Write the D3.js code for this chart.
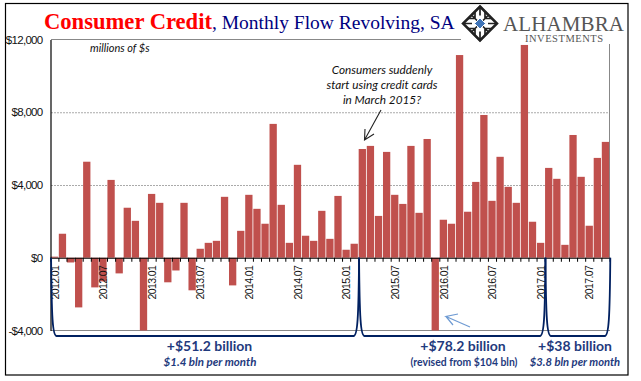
<!DOCTYPE html>
<html>
<head>
<meta charset="utf-8">
<style>
html, body { margin: 0; padding: 0; background: #fff; }
svg { display: block; }
</style>
</head>
<body>
<div id="chart"></div>
<script src="https://cdn.jsdelivr.net/npm/d3@7"></script>
<script>
// monthly flow, millions of $ (Jan 2012 - Sep 2017)
var flow2012 = [60, 1320, -260, -2730, 5280, -1630, -1300, 4280, -860, 2750, 2030, -4000];
var flow2013 = [3510, 3020, -1350, -700, 3020, -1790, 494, 820, 930, 3350, -1520, 1480];
var flow2014 = [3460, 2690, 1870, 7360, 2910, 820, 5110, 1210, 930, 2580, 1040, 3400];
var flow2015 = [440, 770, 5980, 6150, 2300, 5820, 3460, 2960, 6150, 2470, 6530, -4000];
var flow2016 = [2090, 1870, 11145, 2530, 4170, 7850, 3130, 5550, 3900, 3020, 11700, 1980];
var flow2017 = [820, 4940, 4340, 710, 6750, 4450, 1760, 5490, 6370];
var values = [].concat(flow2012, flow2013, flow2014, flow2015, flow2016, flow2017);

var years = [2012, 2013, 2014, 2015, 2016, 2017];
var months = [];
years.forEach(y => {
	d3.range(1, 13).forEach(m => {
		if (months.length < values.length) months.push(y + "." + String(m).padStart(2, "0"));
	});
});
var labelMonths = months.filter(m => m.endsWith(".01") || m.endsWith(".07"));
var yTicks = [-4000, 0, 4000, 8000, 12000];

// brace groups: first month index, last month index
var braces = [[0, 37], [38, 60], [61, 68]];

var width = 641, height = 381;
var svg = d3.select("#chart").append("svg").attr("width", width).attr("height", height);

svg.append("rect").attr("x", 5.5).attr("y", 3.5).attr("width", 622.5).attr("height", 371.5)
	.attr("fill", "#fff").attr("stroke", "#000").attr("stroke-width", 1.2);

var x = d3.scaleBand().domain(months).range([50.3, 609.5]).paddingInner(0.1).paddingOuter(0.05);
var xEdge = d3.scaleLinear().domain([0, months.length]).range([50.3, 609.5]);
var y = d3.scaleLinear().domain([-4000, 12000]).range([330.5, 39.5]);

// gridlines
svg.append("g").selectAll("line").data([4000, 8000]).enter().append("line")
	.attr("x1", 51).attr("x2", 609)
	.attr("y1", d => y(d) + 0.5).attr("y2", d => y(d) + 0.5)
	.attr("stroke", "#aaa").attr("stroke-dasharray", "2,1");

// frame lines
svg.append("line").attr("x1", 51).attr("x2", 461).attr("y1", y(12000)).attr("y2", y(12000)).attr("stroke", "#888");
svg.append("line").attr("x1", 51).attr("x2", 610).attr("y1", y(-4000)).attr("y2", y(-4000)).attr("stroke", "#888");
svg.append("line").attr("x1", 609.5).attr("x2", 609.5).attr("y1", 44).attr("y2", y(0)).attr("stroke", "#888");

svg.append("g").selectAll("rect").data(values).enter().append("rect")
	.attr("x", (d, i) => x(months[i]))
	.attr("width", x.bandwidth())
	.attr("y", d => y(Math.max(d, 0)))
	.attr("height", d => Math.abs(y(d) - y(0)))
	.attr("fill", "#c0504d");

// y axis
var yAxis = d3.axisLeft(y).tickValues(yTicks).tickSize(0).tickPadding(8)
	.tickFormat(d => (d < 0 ? "-$" : "$") + d3.format(",")(Math.abs(d)));
var yG = svg.append("g").attr("transform", "translate(50.5,0)").call(yAxis);
yG.select(".domain").attr("stroke", "#000").attr("stroke-width", 1.2);
yG.selectAll("text").attr("font-family", "Liberation Sans").attr("font-size", 11.5)
	.attr("letter-spacing", -0.7).attr("fill", "#111");

// x axis: a tick between every month
var tickAxis = d3.axisBottom(xEdge).tickValues(d3.range(0, months.length + 1)).tickSize(4).tickSizeOuter(0).tickFormat("");
var xG = svg.append("g").attr("transform", `translate(0,${y(0)})`).call(tickAxis);
xG.select(".domain").attr("stroke", "#000").attr("stroke-width", 1.2);

var labelAxis = d3.axisBottom(x).tickValues(labelMonths).tickSize(0);
var lG = svg.append("g").attr("transform", `translate(0.5,${y(0)})`).call(labelAxis);
lG.select(".domain").remove();
lG.selectAll("text")
	.attr("transform", "rotate(-90)")
	.attr("x", -8).attr("y", 0).attr("dy", "0.35em")
	.attr("text-anchor", "end")
	.attr("font-family", "Liberation Sans").attr("font-size", 10.5)
	.attr("letter-spacing", -0.6).attr("fill", "#111");

// braces
var braceBottom = 336;
braces.forEach(b => {
	var x0 = xEdge(b[0]) + 0.8, x1 = xEdge(b[1] + 1) + 0.8;
	var top = y(0);
	var path = d3.path();
	path.moveTo(x0, top);
	path.bezierCurveTo(x0 + 0.5, top + 60, x0 + 1.5, braceBottom, x0 + 5.5, braceBottom);
	path.lineTo(x1 - 5.5, braceBottom);
	path.bezierCurveTo(x1 - 1.5, braceBottom, x1 - 0.5, top + 60, x1, top);
	svg.append("path").attr("d", path.toString()).attr("fill", "none")
		.attr("stroke", "#002060").attr("stroke-width", 1.8);
});

// title
svg.append("text").attr("x", 44).attr("y", 29)
	.attr("font-family", "Liberation Serif").attr("font-size", 22.6).attr("font-weight", "bold")
	.attr("fill", "#f00").text("Consumer Credit");
svg.append("text").attr("x", 212).attr("y", 29)
	.attr("font-family", "Liberation Serif").attr("font-size", 19.5)
	.attr("fill", "#000080").text(", Monthly Flow Revolving, SA");

svg.append("text").attr("x", 90).attr("y", 52)
	.attr("font-family", "Lato").attr("font-style", "italic").attr("font-size", 11).attr("fill", "#111")
	.text("millions of $s");

// callout
var note = ["Consumers suddenly", "start using credit cards", "in March 2015?"];
svg.append("g").selectAll("text").data(note).enter().append("text")
	.attr("x", 382).attr("y", (d, i) => 74 + i * 15)
	.attr("text-anchor", "middle")
	.attr("font-family", "Lato").attr("font-style", "italic").attr("font-size", 11.8).attr("fill", "#111")
	.text(d => d);

svg.append("path").attr("d", "M381,110L364.5,140M365,129L364.5,140L374,134")
	.attr("fill", "none").attr("stroke", "#222").attr("stroke-width", 1.1);
svg.append("path").attr("d", "M470,327L446,316.5L458,314M446,316.5L453,325")
	.attr("fill", "none").attr("stroke", "#6f9bd3").attr("stroke-width", 1.2);

// brace labels
var bigLabels = [["+$51.2 billion", 209.5], ["+$78.2 billion", 463], ["+$38 billion", 575]];
svg.append("g").selectAll("text").data(bigLabels).enter().append("text")
	.attr("x", d => d[1]).attr("y", 351)
	.attr("text-anchor", "middle")
	.attr("font-family", "Lato").attr("font-weight", "bold").attr("font-size", 14)
	.attr("fill", "#1f3a7d")
	.text(d => d[0]);

var smallLabels = [["$1.4 bln per month", 210, "italic", 11.5], ["(revised from $104 bln)", 464, "normal", 10.4], ["$3.8 bln per month", 575, "italic", 11.2]];
svg.append("g").selectAll("text").data(smallLabels).enter().append("text")
	.attr("x", d => d[1]).attr("y", 365.5)
	.attr("text-anchor", "middle")
	.attr("font-family", "Lato").attr("font-weight", "bold").attr("font-style", d => d[2])
	.attr("font-size", d => d[3]).attr("fill", "#1f3a7d")
	.text(d => d[0]);

// logo
var logo = svg.append("g").attr("transform", "translate(480,23.5)");
logo.append("path").attr("d", "M0,-17L17,0L0,17L-17,0Z").attr("fill", "#fff").attr("stroke", "#222").attr("stroke-width", 2.5);
logo.append("path").attr("d", "M-8.5,-8.5L8.5,8.5M8.5,-8.5L-8.5,8.5M-8.5,-8.5L0,-17L8.5,-8.5M8.5,8.5L0,17L-8.5,8.5M-5,-12V-5H-12M5,-12V-5H12M-5,12V5H-12M5,12V5H12M0,-17V-8M0,17V8M-17,0H-8M17,0H8")
	.attr("fill", "none").attr("stroke", "#222").attr("stroke-width", 1.7);
logo.append("path").attr("d", "M0,-5.5L5.5,0L0,5.5L-5.5,0Z").attr("fill", "#3f74b8").attr("stroke", "#fff");

svg.append("text").attr("x", 503).attr("y", 30.5)
	.attr("font-family", "Liberation Serif").attr("font-size", 21).attr("fill", "#555")
	.attr("textLength", 121).text("ALHAMBRA");
svg.append("text").attr("x", 525).attr("y", 41.5)
	.attr("font-family", "Liberation Serif").attr("font-size", 10.5).attr("fill", "#555")
	.attr("textLength", 78).text("INVESTMENTS");
</script>
</body>
</html>
